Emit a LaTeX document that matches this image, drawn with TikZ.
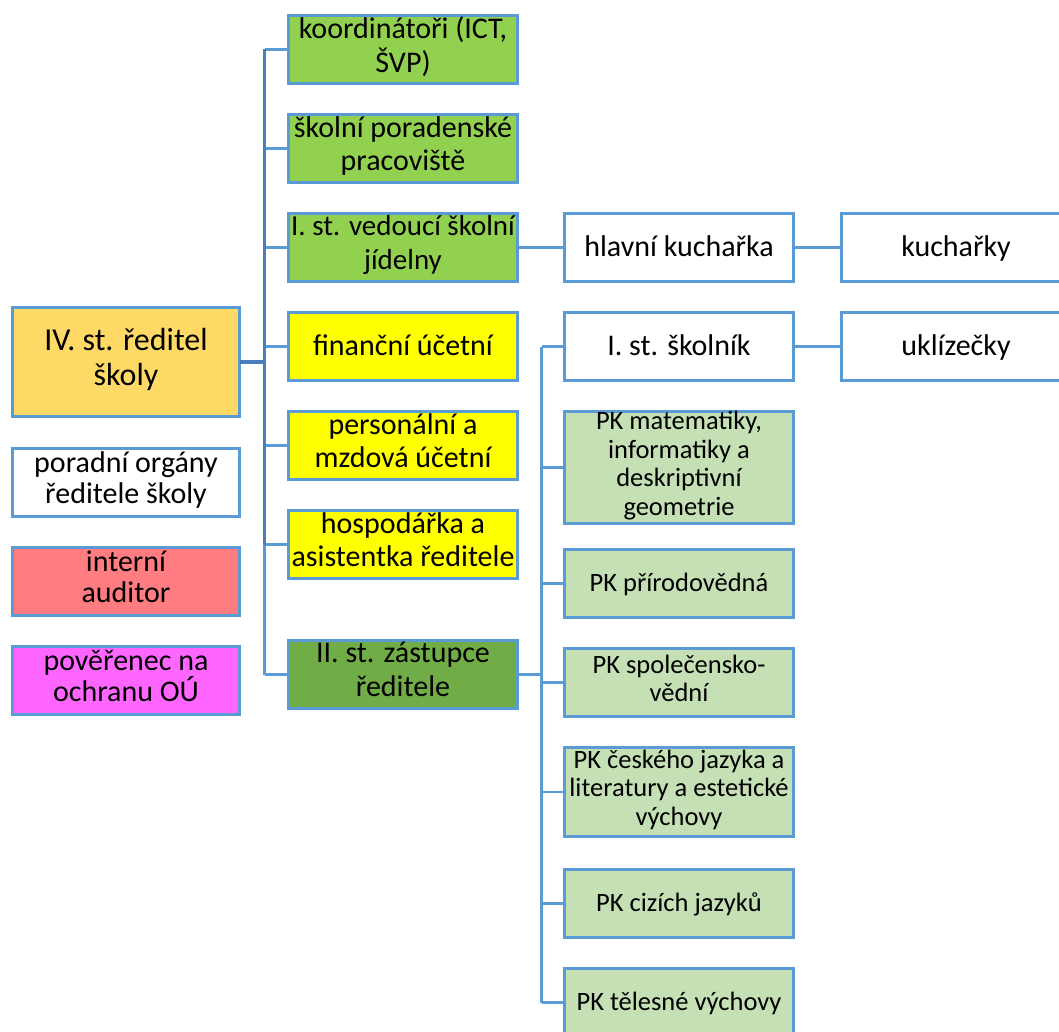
\documentclass[tikz,border=0pt]{standalone}
\usepackage{fontspec}
\setmainfont{Carlito}
\definecolor{bc}{HTML}{5B9BD5}
\definecolor{lc}{HTML}{5B9BD5}
\definecolor{ldark}{HTML}{4A7EBB}
\definecolor{cgreen}{HTML}{92D050}
\definecolor{cyellow}{HTML}{FFFF00}
\definecolor{cdgreen}{HTML}{70AD47}
\definecolor{corange}{HTML}{FFD966}
\definecolor{cred}{HTML}{FF7C80}
\definecolor{cmag}{HTML}{FF66FF}
\definecolor{clgreen}{HTML}{C5E0B4}
\tikzset{
  box/.style={draw=bc, line width=3pt, minimum width=229pt, minimum height=68pt,
    inner sep=0pt, outer sep=0pt, align=center, anchor=north west,
    font=\fontsize{30}{33.5}\selectfont, text=black,
    execute at begin node=\rule{0pt}{0.85\baselineskip}, execute at end node=\strut},
  pkbox/.style={box, font=\fontsize{26.5}{28.5}\selectfont, fill=clgreen},
  conn/.style={draw=lc, line width=2.5pt},
  connd/.style={draw=ldark, line width=3pt}
}
\begin{document}
\begin{tikzpicture}[x=1pt,y=-1pt]
\fill[white] (0,0) rectangle (1059,1032);
\useasboundingbox (0,0) rectangle (1059,1032);
% left column
\node[box, minimum width=227pt, minimum height=109pt, fill=corange, font=\fontsize{32}{35}\selectfont] (reditel) at (12.5,307.5) {IV. st. ředitel\\školy};
\node[box, minimum width=227pt, fill=white, font=\fontsize{30}{31}\selectfont] (poradni) at (12.5,448.5) {poradní orgány\\ředitele školy};
\node[box, minimum width=227pt, fill=cred, font=\fontsize{30}{31}\selectfont] (interni) at (12.5,547.5) {interní\\auditor};
\node[box, minimum width=227pt, fill=cmag, font=\fontsize{30}{31}\selectfont] (poverenec) at (12.5,646.5) {pověřenec na\\ochranu OÚ};
% second column
\node[box, fill=cgreen] (koord) at (288.5,15.5) {koordinátoři (ICT,\\ŠVP)};
\node[box, fill=cgreen] (porad) at (288.5,114.5) {školní poradenské\\pracoviště};
\node[box, fill=cgreen, font=\fontsize{29}{33.5}\selectfont] (jidelna) at (288.5,213.5) {I. st. vedoucí školní\\jídelny};
\node[box, fill=cyellow] (financni) at (288.5,312.5) {finanční účetní};
\node[box, fill=cyellow] (personalni) at (288.5,411.5) {personální a\\mzdová účetní};
\node[box, fill=cyellow] (hospodarka) at (288.5,510.5) {hospodářka a\\asistentka ředitele};
\node[box, fill=cdgreen] (zastupce) at (288.5,640.5) {II. st. zástupce\\ředitele};
% third column
\node[box, fill=white] (hlavni) at (564.5,213.5) {hlavní kuchařka};
\node[box, fill=white] (skolnik) at (564.5,312.5) {I. st. školník};
\node[pkbox, minimum height=107pt] (pkmat) at (564.5,411.5) {PK matematiky,\\informatiky a\\deskriptivní\\geometrie};
\node[pkbox] (pkprir) at (564.5,549.5) {PK přírodovědná};
\node[pkbox] (pkspol) at (564.5,648.5) {PK společensko-\\vědní};
\node[pkbox, minimum height=89pt] (pkcj) at (564.5,747.5) {PK českého jazyka a\\literatury a estetické\\výchovy};
\node[pkbox] (pkciz) at (564.5,869.5) {PK cizích jazyků};
\node[pkbox] (pktel) at (564.5,968.5) {PK tělesné výchovy};
% fourth column
\node[box, fill=white] (kucharky) at (841.5,213.5) {kuchařky};
\node[box, fill=white] (uklizecky) at (841.5,312.5) {uklízečky};
% connectors
\coordinate (busA) at (264.5,0);
\coordinate (busB) at (541.5,0);
\draw[conn] (busA |- hospodarka.west) -- (busA |- zastupce.west);
\foreach \n in {koord,porad,jidelna,financni,personalni,hospodarka,zastupce}
  \draw[conn] (busA |- \n.west) -- (\n.west);
\draw[connd] (busA |- koord.west) -- (busA |- hospodarka.west);
\draw[connd, line width=4pt] (reditel.east) -- (reditel.east -| busA);
\draw[conn] (zastupce.east) -- (zastupce.east -| busB);
\draw[conn] (busB |- skolnik.west) -- (busB |- pktel.west);
\foreach \n in {skolnik,pkmat,pkprir,pkspol,pkcj,pkciz,pktel}
  \draw[conn] (busB |- \n.west) -- (\n.west);
\draw[conn] (jidelna.east) -- (hlavni.west);
\draw[conn] (hlavni.east) -- (kucharky.west);
\draw[conn] (skolnik.east) -- (uklizecky.west);
\end{tikzpicture}
\end{document}
